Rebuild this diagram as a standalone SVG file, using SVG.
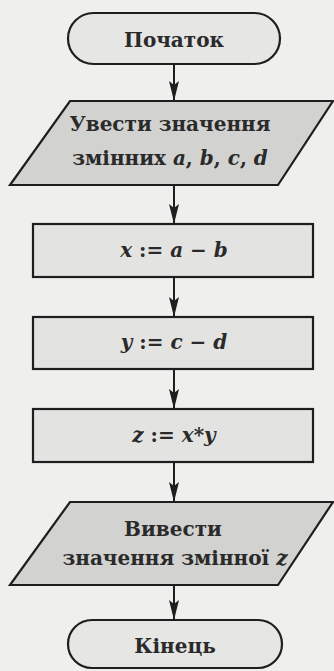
<svg xmlns="http://www.w3.org/2000/svg" width="334" height="671" viewBox="0 0 334 671">
<style>
.bg{fill:#efefed}
.box{fill:#e3e3e1;stroke:#1e1e1e;stroke-width:2.2}
.io{fill:#d2d2d0;stroke:#1e1e1e;stroke-width:2.2}
.term{fill:#e6e6e4;stroke:#1e1e1e;stroke-width:2.2}
.t{font-family:"DejaVu Serif","Liberation Serif",serif;font-weight:bold;font-size:20px;fill:#2a2a2a;text-anchor:middle}
.m{font-family:"DejaVu Serif","Liberation Serif",serif;font-style:italic;font-weight:bold;font-size:20px;fill:#2a2a2a;text-anchor:middle}
.up{font-style:normal}
.conn line{stroke:#1e1e1e;stroke-width:2}
</style>
<defs>
<marker id="ah" viewBox="0 0 20 10" refX="20" refY="5" markerWidth="20" markerHeight="10" markerUnits="userSpaceOnUse" orient="auto">
<path d="M0,0 L4,5 L0,10 L20,5 Z" fill="#1e1e1e"/>
</marker>
</defs>
<rect class="bg" x="0" y="0" width="334" height="671"/>
<g class="conn">
<line x1="174" y1="64" x2="174" y2="101" marker-end="url(#ah)"/>
<line x1="174" y1="185" x2="174" y2="224" marker-end="url(#ah)"/>
<line x1="174" y1="277" x2="174" y2="317" marker-end="url(#ah)"/>
<line x1="174" y1="369" x2="174" y2="409" marker-end="url(#ah)"/>
<line x1="174" y1="462" x2="174" y2="502" marker-end="url(#ah)"/>
<line x1="174" y1="585" x2="174" y2="620" marker-end="url(#ah)"/>
</g>
<g id="start">
<rect class="term" x="68" y="13" width="212" height="51" rx="25.5" ry="25.5"/>
<text class="t" x="174" y="47">Початок</text>
</g>
<g id="input">
<polygon class="io" points="70,101 333,101 278,185 10,185"/>
<text class="t" x="170" y="131">Увести значення</text>
<text class="t" x="170" y="165">змінних <tspan font-style="italic">a</tspan>, <tspan font-style="italic">b</tspan>, <tspan font-style="italic">c</tspan>, <tspan font-style="italic">d</tspan></text>
</g>
<g id="assign-x">
<rect class="box" x="33" y="224" width="280" height="53"/>
<text class="m" x="174" y="257">x <tspan class="up">:=</tspan> a <tspan class="up">−</tspan> b</text>
</g>
<g id="assign-y">
<rect class="box" x="33" y="317" width="280" height="52"/>
<text class="m" x="174" y="349">y <tspan class="up">:=</tspan> c <tspan class="up">−</tspan> d</text>
</g>
<g id="assign-z">
<rect class="box" x="33" y="409" width="280" height="53"/>
<text class="m" x="174" y="442">z <tspan class="up">:=</tspan> x<tspan class="up">*</tspan>y</text>
</g>
<g id="output">
<polygon class="io" points="70,502 333,502 278,585 10,585"/>
<text class="t" x="173" y="536">Вивести</text>
<text class="t" x="175" y="565">значення змінної <tspan font-style="italic">z</tspan></text>
</g>
<g id="end">
<rect class="term" x="68" y="620" width="214" height="48" rx="24" ry="24"/>
<text class="t" x="175" y="653">Кінець</text>
</g>
</svg>
